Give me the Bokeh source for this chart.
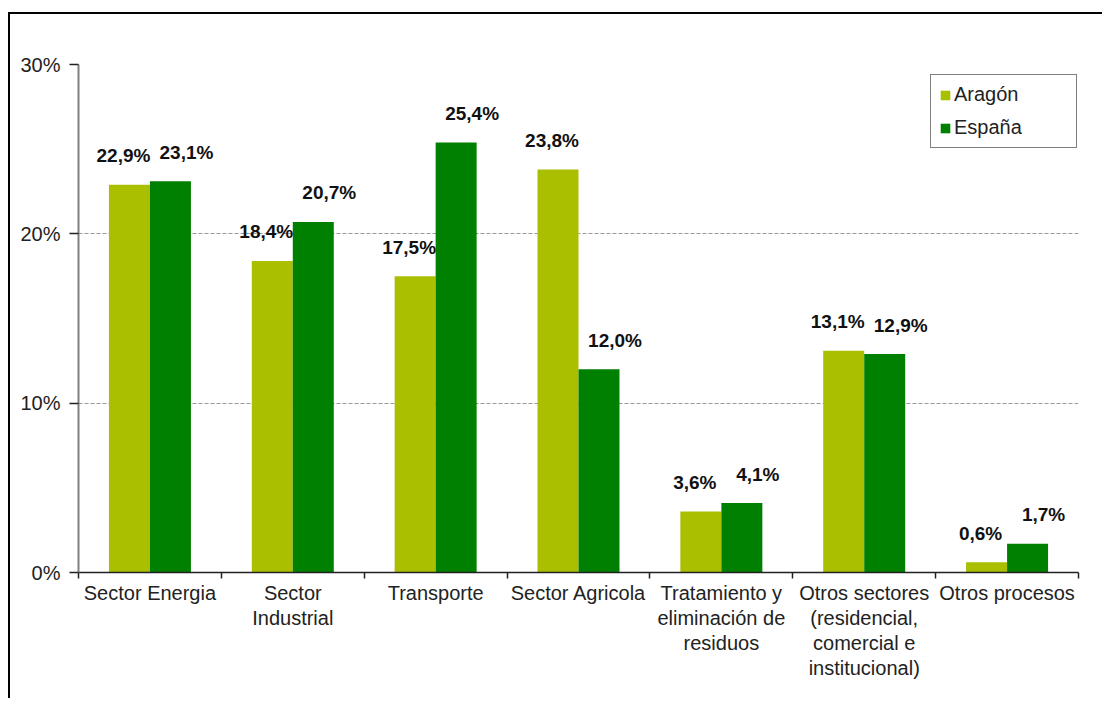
from bokeh.plotting import figure
from bokeh.models import ColumnDataSource, Range1d, FixedTicker, Legend, LegendItem
from bokeh.core.properties import value
from bokeh.transform import dodge
from bokeh.embed import file_html
from bokeh.resources import INLINE

categories = ["Sector Energia", "Sector\nIndustrial", "Transporte", "Sector Agricola",
              "Tratamiento y\neliminación de\nresiduos",
              "Otros sectores\n(residencial,\ncomercial e\ninstitucional)",
              "Otros procesos"]
aragon = [22.9, 18.4, 17.5, 23.8, 3.6, 13.1, 0.6]
espana = [23.1, 20.7, 25.4, 12.0, 4.1, 12.9, 1.7]
series_names = ["Aragón", "España"]
y_ticks = [0, 10, 20, 30]
y_tick_labels = ["0%", "10%", "20%", "30%"]

FONT = "Liberation Sans"
C_ARAGON = "#A9BF00"
C_ESPANA = "#008000"

centers = [i + 0.5 for i in range(len(categories))]
fmt = lambda v: f"{v:.1f}".replace(".", ",") + "%"
src = ColumnDataSource(dict(
    x=centers, aragon=aragon, espana=espana,
    lab_a=[fmt(v) for v in aragon], lab_e=[fmt(v) for v in espana]))

p = figure(width=1094, height=686, x_range=Range1d(0, len(categories)),
           y_range=Range1d(0, 30), output_backend="svg", toolbar_location=None,
           min_border_left=68, min_border_right=26, min_border_top=50,
           min_border_bottom=128)
p.styles = {"border-top": "2px solid black", "border-left": "2px solid black",
            "margin-top": "12px", "margin-left": "8px"}
p.outline_line_color = None
p.background_fill_color = "white"
p.border_fill_color = "white"

bw = 0.287
r_a = p.vbar(x=dodge("x", -bw / 2, range=p.x_range), top="aragon", width=bw,
             source=src, fill_color=C_ARAGON, line_color=None)
r_e = p.vbar(x=dodge("x", bw / 2, range=p.x_range), top="espana", width=bw,
             source=src, fill_color=C_ESPANA, line_color=None)

common = dict(source=src, text_font=value(FONT), text_font_size="19px",
              text_font_style="bold", text_color="#111111", text_align="center",
              text_baseline="middle", y_offset=-29)
p.text(x=dodge("x", -bw / 2, range=p.x_range), y="aragon", text="lab_a", x_offset=-6, **common)
p.text(x=dodge("x", bw / 2, range=p.x_range), y="espana", text="lab_e", x_offset=16, **common)

# y axis
p.yaxis.ticker = FixedTicker(ticks=y_ticks)
p.yaxis.major_label_overrides = {t: l for t, l in zip(y_ticks, y_tick_labels)}
p.yaxis.major_label_text_font = FONT
p.yaxis.major_label_text_font_size = "20px"
p.yaxis.major_label_text_color = "#222222"
p.yaxis.axis_line_color = "#808080"
p.yaxis.axis_line_width = 2
p.yaxis.major_tick_line_color = "#222222"
p.yaxis.major_tick_line_width = 1.5
p.yaxis.major_tick_out = 9
p.yaxis.major_tick_in = 0
p.yaxis.minor_tick_line_color = None
p.yaxis.major_label_standoff = 9

# x axis: labels at centers, ticks at boundaries
p.xaxis.ticker = FixedTicker(ticks=centers, minor_ticks=list(range(len(categories) + 1)))
p.xaxis.major_label_overrides = {c: n for c, n in zip(centers, categories)}
p.xaxis.major_label_text_font = FONT
p.xaxis.major_label_text_font_size = "20px"
p.xaxis.major_label_text_color = "#222222"
p.xaxis.major_label_text_line_height = 1.15
p.xaxis.major_tick_line_color = None
p.xaxis.major_tick_out = 0
p.xaxis.major_tick_in = 0
p.xaxis.major_label_standoff = 3
p.xaxis.minor_tick_line_color = "#222222"
p.xaxis.minor_tick_line_width = 1.5
p.xaxis.minor_tick_out = 6
p.xaxis.minor_tick_in = 0
p.xaxis.axis_line_color = "#222222"
p.xaxis.axis_line_width = 1.5

p.xgrid.grid_line_color = None
p.ygrid.ticker = FixedTicker(ticks=y_ticks[1:])
p.ygrid.grid_line_color = "#9a9a9a"
p.ygrid.grid_line_dash = "4 2"
p.ygrid.grid_line_width = 1

legend = Legend(items=[LegendItem(label=series_names[0], renderers=[r_a]),
                       LegendItem(label=series_names[1], renderers=[r_e])],
                location=(852, 424))
legend.label_text_font = FONT
legend.label_text_font_size = "20px"
legend.label_text_color = "#222222"
legend.glyph_width = 12
legend.glyph_height = 12
legend.label_height = 22
legend.label_width = 114
legend.label_standoff = 3
legend.spacing = 10
legend.padding = 8
legend.border_line_color = "black"
legend.border_line_width = 1.5
legend.background_fill_color = "white"
legend.background_fill_alpha = 1
p.add_layout(legend)

open("out.html", "w").write(file_html(p, INLINE))
